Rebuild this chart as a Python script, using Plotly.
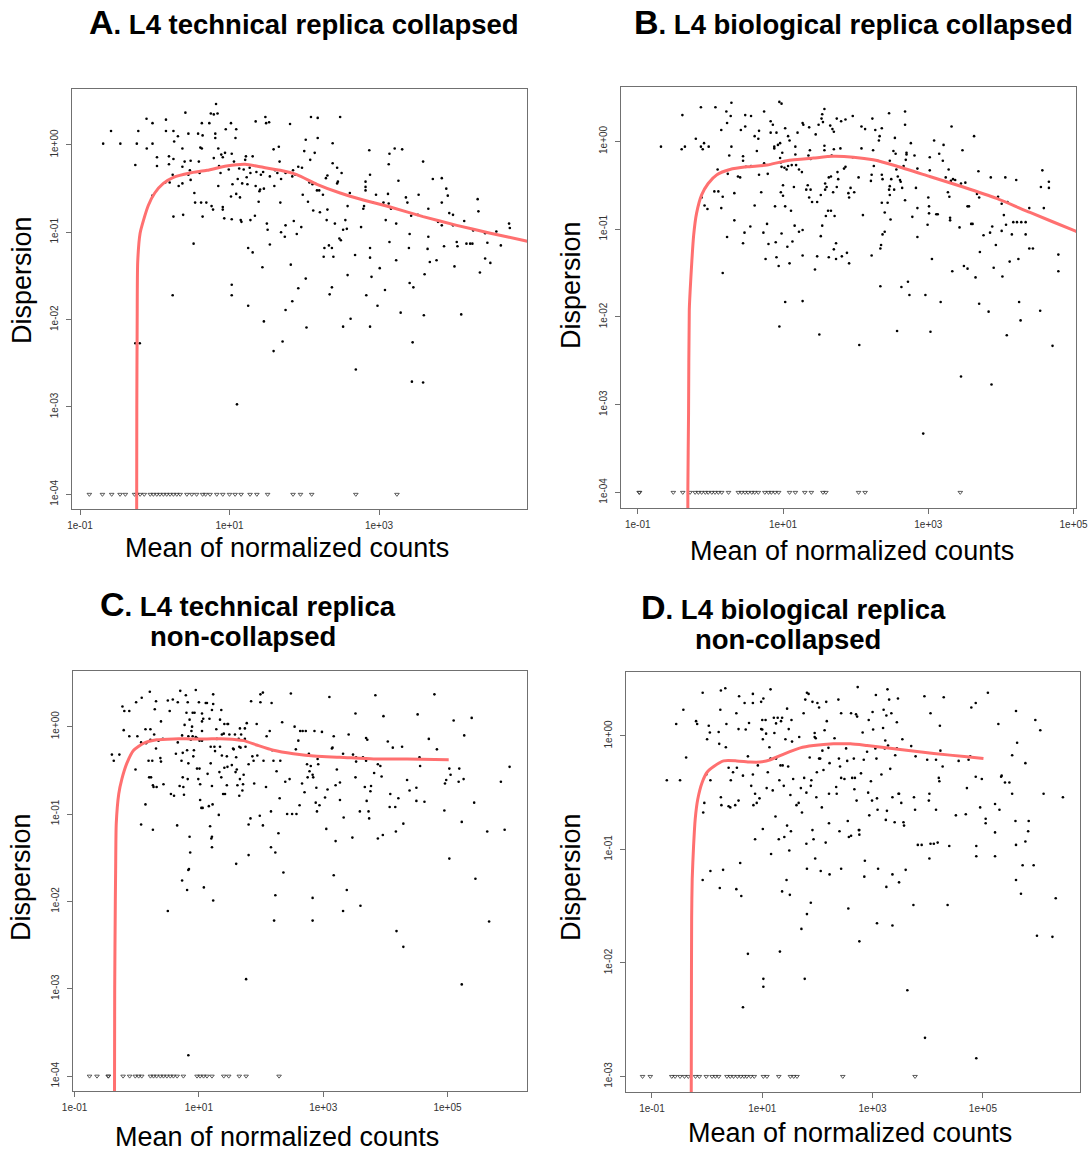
import numpy as np
import plotly.graph_objects as go

# ---------------------------------------------------------------------------
# Gene-wise dispersion estimates (log10 mean of normalized counts, log10 dispersion)
# ---------------------------------------------------------------------------
A_genes = [
    (-0.69, 0.015), (-0.585, 0.16), (-0.46, 0.015), (-0.24, 0.015), (-0.22, 0.16), (-0.26, -0.23),
    (-0.11, 0.30), (-0.107, -0.04), (-0.03, 0.25), (-0.03, 0.015), (0.03, -0.14), (0.03, -0.24),
    (-0.03, -0.58), (0.15, 0.29), (0.15, 0.16), (0.19, -0.13), (0.19, -0.22), (0.20, -0.43),
    (0.14, -0.43), (0.24, -0.34), (0.25, 0.16), (0.26, 0.04), (0.25, -0.16), (0.25, -0.82),
    (0.31, 0.10), (0.32, -0.47), (0.37, -0.04), (0.37, -0.25), (0.37, -0.44), (0.38, -0.80),
    (0.41, 0.37), (0.40, -0.19), (0.45, 0.13), (0.45, -0.34), (0.47, -0.29), (0.48, -0.18),
    (0.48, -0.40), (0.52, -1.13), (0.53, -0.55), (0.54, -0.66), (0.58, 0.13), (0.59, -0.19),
    (0.60, -0.32), (0.61, -0.03), (0.63, -0.04), (0.63, 0.25), (0.64, 0.11), (0.64, -0.82),
    (0.62, -0.66), (0.69, -0.66), (0.73, 0.25), (0.75, 0.36), (0.79, 0.35), (0.82, 0.47),
    (0.84, 0.36), (0.81, 0.13), (0.81, 0.08), (0.79, -0.15), (0.76, -0.70), (0.78, -0.74),
    (0.85, -0.04), (0.86, -0.24), (0.88, -0.32), (0.85, -0.47), (0.91, -0.71), (0.91, -0.74),
    (0.93, -0.84), (0.89, -0.11), (0.91, -0.14), (0.94, -0.09), (0.95, 0.18), (0.99, -0.28),
    (1.02, 0.25), (1.03, -0.10), (1.03, -0.85), (1.02, -0.59), (1.04, -0.45), (1.08, 0.08),
    (1.09, 0.18), (1.06, -0.19), (1.09, -0.56), (1.11, -0.39), (1.13, -0.27), (1.14, -0.60),
    (1.15, -0.86), (1.16, -0.88), (1.17, -0.44), (1.19, -0.28), (1.21, -0.17), (1.22, -0.13),
    (1.23, -0.37), (1.24, -0.45), (1.25, -1.18), (1.28, -0.86), (1.28, -0.32), (1.27, -0.26),
    (1.31, -0.13), (1.31, -1.23), (1.35, 0.27), (1.34, -0.81), (1.35, -0.47), (1.36, -0.31),
    (1.39, -0.65), (1.40, -0.53), (1.41, -0.51), (1.42, -0.34), (1.45, -0.31), (1.46, -0.50),
    (1.44, -1.40), (1.48, 0.32), (1.49, 0.25), (1.50, -0.90), (1.51, -0.97), (1.53, 0.26),
    (1.54, -1.14), (1.54, -0.36), (1.59, -0.05), (1.60, -0.47), (1.61, -0.29), (1.64, -0.32),
    (1.66, -0.02), (1.67, -0.19), (1.69, -0.39), (1.68, -0.66), (1.69, -1.00), (1.74, -1.05),
    (1.75, -0.92), (1.75, -0.32), (1.81, 0.24), (1.82, -1.37), (1.85, -0.29), (1.84, -0.36),
    (1.86, -0.87), (1.88, -0.34), (1.90, -1.02), (1.92, -0.25), (1.97, -0.26), (1.96, -0.94),
    (1.98, -0.57), (2.00, -0.07), (2.02, 0.06), (2.02, -1.53), (2.05, -0.65), (2.08, -0.17),
    (2.07, -0.43), (2.09, 0.32), (2.11, -0.45), (2.12, -0.75), (2.14, -0.09), (2.17, -0.52),
    (2.18, 0.31), (2.18, 0.08), (2.20, -0.52), (2.21, -0.77), (2.25, -0.57), (2.27, -1.18),
    (2.26, -1.28), (2.29, -0.38), (2.31, -0.35), (2.30, -0.86), (2.31, -0.74), (2.33, -1.15),
    (2.37, -1.18), (2.38, -0.21), (2.38, 0.02), (2.39, -1.28), (2.41, -0.90), (2.44, -0.26),
    (2.44, -0.44), (2.45, -0.42), (2.47, -1.07), (2.49, -1.09), (2.48, 0.32), (2.50, -0.32),
    (2.52, -0.97), (2.55, -0.86), (2.57, -0.96), (2.58, -1.49), (2.58, -0.70), (2.61, -0.55),
    (2.68, -1.26), (2.76, -0.94), (2.79, -0.73), (2.80, -0.70), (2.82, -0.42), (2.82, -0.52),
    (2.82, -0.48), (2.87, -0.06), (2.88, -0.34), (2.88, -1.18), (2.88, -1.29), (2.90, -1.51),
    (2.92, -0.66), (2.96, -0.57), (3.01, -1.41), (3.06, -0.66), (3.09, -0.86), (3.12, -0.56),
    (3.13, -0.67), (3.13, -0.22), (3.14, -0.10), (3.14, -1.11), (3.16, -0.73), (3.21, -0.04),
    (3.23, -0.90), (3.23, -1.32), (3.26, -0.41), (3.31, -0.05), (3.36, -0.60), (3.38, -0.66),
    (3.40, -1.18), (3.41, -1.02), (3.43, -0.81), (3.52, -0.80), (3.53, -0.57), (3.59, -0.19),
    (3.61, -1.48), (3.65, -1.19), (3.66, -1.05), (3.66, -0.73), (3.68, -1.34), (3.72, -0.39),
    (3.77, -1.32), (3.79, -0.88), (3.84, -0.38), (3.84, -0.66), (3.84, -0.92), (3.87, -1.16),
    (3.90, -0.50), (3.92, -0.58), (3.94, -0.78), (3.99, -0.80), (3.99, -0.92), (4.01, -1.39),
    (4.04, -1.11), (4.05, -1.16), (4.14, -0.87), (4.17, -1.13), (4.22, -1.13), (4.25, -1.13),
    (4.26, -0.98), (4.32, -0.62), (4.33, -0.76), (4.35, -1.46), (4.42, -1.01), (4.42, -1.30),
    (4.45, -1.12), (4.49, -1.35), (4.57, -0.99), (4.63, -1.15), (4.74, -0.90), (4.75, -0.95),
    (0.24, -1.72), (-0.26, -2.27), (-0.20, -2.27), (1.03, -1.60), (1.03, -1.72), (1.25, -1.84),
    (1.46, -2.02), (1.59, -2.36), (1.75, -1.89), (1.84, -1.79), (1.92, -1.64), (1.71, -2.25),
    (2.03, -2.09), (2.34, -1.71), (2.37, -1.63), (2.52, -2.08), (2.62, -1.99), (2.69, -2.57),
    (2.83, -1.72), (2.88, -2.08), (2.98, -1.84), (3.08, -1.66), (3.29, -1.92), (3.41, -1.58),
    (3.46, -1.63), (3.45, -2.26), (3.44, -2.71), (3.59, -2.72), (3.60, -1.95), (4.10, -1.94),
    (1.10, -2.97),
]
A_low_means = [
    -0.875, -0.70, -0.576, -0.464, -0.393, -0.27, -0.24, -0.196, -0.14, -0.06, -0.018, 0.027,
    0.07, 0.116, 0.16, 0.205, 0.25, 0.295, 0.34, 0.43, 0.495, 0.56, 0.64, 0.68, 0.74, 0.83,
    0.91, 1.0, 1.075, 1.155, 1.275, 1.366, 1.51, 1.85, 1.95, 2.10, 2.69, 3.24,
]
A_fit = [
    (-0.243, -5.0), (-0.240, -3.0), (-0.235, -2.0), (-0.228, -1.34), (-0.196, -1.01),
    (-0.15, -0.86), (-0.085, -0.69), (0.0, -0.55), (0.115, -0.44), (0.25, -0.37), (0.47, -0.32),
    (0.70, -0.29), (0.96, -0.24), (1.21, -0.22), (1.41, -0.25), (1.68, -0.29), (1.90, -0.34),
    (2.17, -0.45), (2.48, -0.55), (2.79, -0.63), (3.15, -0.71), (3.59, -0.82), (4.04, -0.92),
    (4.49, -1.01), (4.97, -1.10), (5.2, -1.15),
]

B_genes = [
    (-0.68, -0.06), (-0.385, 0.30), (-0.395, -0.09), (-0.35, -0.06), (-0.20, 0.03), (-0.13, 0.39),
    (-0.13, -0.06), (-0.105, -0.09), (-0.087, -0.02), (-0.023, -0.06), (-0.12, -0.64), (-0.08, -0.73),
    (-0.04, -0.77), (0.055, -0.57), (0.07, 0.39), (0.10, -0.32), (0.11, -0.57), (0.15, 0.13),
    (0.15, -0.76), (0.17, -1.50), (0.17, -0.63), (0.22, 0.34), (0.23, 0.21), (0.24, -0.37),
    (0.23, -1.09), (0.26, -0.16), (0.29, 0.44), (0.29, -0.06), (0.28, 0.29), (0.33, -0.59),
    (0.33, -0.90), (0.38, -0.40), (0.41, -0.41), (0.42, 0.13), (0.45, -0.17), (0.45, -0.22),
    (0.45, -1.16), (0.47, -1.04), (0.48, 0.30), (0.48, 0.17), (0.49, -0.29), (0.55, -0.97),
    (0.56, -0.28), (0.56, 0.29), (0.61, 0.06), (0.61, -0.73), (0.64, -0.11), (0.66, 0.03),
    (0.67, 0.12), (0.67, -0.38), (0.70, -0.58), (0.73, -1.04), (0.74, -0.25), (0.74, 0.34),
    (0.76, -1.34), (0.79, -0.37), (0.78, -0.94), (0.80, -1.17), (0.83, 0.10), (0.83, 0.23),
    (0.86, 0.19), (0.88, -0.08), (0.88, -0.06), (0.89, -0.74), (0.90, -1.15), (0.91, -1.32),
    (0.91, 0.10), (0.93, -0.04), (0.94, -1.42), (0.95, 0.45), (0.98, 0.43), (0.96, -0.02),
    (0.96, -0.19), (0.97, -0.24), (0.98, -0.29), (0.97, -0.58), (0.98, -1.05), (0.99, -0.13),
    (1.0, -0.62), (1.0, -0.50), (1.02, -0.30), (1.03, -0.74), (1.03, 0.15), (1.05, -0.32),
    (1.06, -1.20), (1.07, -0.28), (1.07, 0.06), (1.09, 0.01), (1.09, -1.39), (1.11, -0.79),
    (1.12, -0.27), (1.13, -1.14), (1.15, -0.52), (1.16, -0.96), (1.17, -0.06), (1.17, -0.15),
    (1.18, -0.27), (1.20, 0.10), (1.22, -0.32), (1.22, -1.03), (1.26, -0.35), (1.27, -1.01),
    (1.27, 0.21), (1.27, -1.30), (1.28, 0.19), (1.32, -0.55), (1.34, -0.50), (1.35, -0.16),
    (1.36, 0.16), (1.36, -0.64), (1.37, -0.10), (1.38, -0.55), (1.38, -0.20), (1.40, -0.69),
    (1.44, -1.46), (1.45, 0.08), (1.47, -0.69), (1.47, -1.31), (1.49, 0.19), (1.52, -1.08),
    (1.52, -0.61), (1.53, 0.26), (1.54, 0.31), (1.54, -0.96), (1.55, 0.22), (1.57, -0.05),
    (1.57, 0.37), (1.57, -0.10), (1.58, -0.55), (1.58, -0.48), (1.59, -0.85), (1.60, -0.52),
    (1.62, -0.79), (1.63, -0.41), (1.63, -1.32), (1.65, 0.18), (1.66, -0.79), (1.66, -0.40),
    (1.67, -0.16), (1.68, 0.14), (1.69, -0.58), (1.70, 0.11), (1.70, -0.09), (1.70, -1.23),
    (1.71, -0.85), (1.73, -1.34), (1.73, -1.16), (1.74, 0.26), (1.74, -0.52), (1.75, -0.35),
    (1.76, -0.43), (1.79, -0.08), (1.80, 0.23), (1.81, -1.31), (1.84, -0.31), (1.86, -0.29),
    (1.86, 0.25), (1.88, -1.27), (1.90, -0.59), (1.91, -1.39), (1.91, -0.64), (1.93, -0.53),
    (1.96, 0.29), (1.96, -0.18), (1.98, -0.58), (2.04, -0.41), (2.08, 0.17), (2.08, -0.08),
    (2.10, -0.84), (2.13, 0.14), (2.21, -0.45), (2.22, -0.38), (2.22, -1.30), (2.23, 0.26),
    (2.24, -0.10), (2.25, -0.28), (2.27, 0.13), (2.30, -0.22), (2.32, 0.01), (2.33, 0.06),
    (2.34, -1.22), (2.35, -1.18), (2.36, 0.15), (2.36, -0.38), (2.36, -0.70), (2.37, -0.43),
    (2.37, -1.06), (2.40, -1.03), (2.40, -0.81), (2.44, -0.70), (2.46, 0.32), (2.46, -0.55),
    (2.47, -0.61), (2.47, -0.51), (2.48, -0.89), (2.49, -0.43), (2.47, -0.22), (2.52, -0.11),
    (2.53, -0.55), (2.54, 0.04), (2.55, -0.14), (2.56, -0.32), (2.58, -0.40), (2.61, -0.44),
    (2.62, -0.46), (2.64, -0.53), (2.66, -0.28), (2.68, 0.34), (2.68, 0.19), (2.68, -0.67),
    (2.69, -0.21), (2.70, -0.15), (2.70, -0.13), (2.76, -0.02), (2.78, -0.86), (2.81, -0.16),
    (2.83, -0.53), (2.85, -0.76), (2.85, -1.09), (2.85, -0.31), (2.99, -0.95), (3.0, -0.64),
    (3.01, -0.74), (3.01, -0.82), (3.02, -0.18), (3.02, -0.33), (3.05, -1.34), (3.08, 0.01),
    (3.11, -0.83), (3.13, -0.83), (3.15, -0.14), (3.20, -0.22), (3.21, -0.04), (3.24, -0.41),
    (3.27, -0.58), (3.28, -0.32), (3.29, -0.63), (3.30, -0.87), (3.30, -0.90), (3.31, -0.45),
    (3.32, 0.17), (3.33, -1.48), (3.34, -0.43), (3.37, -0.44), (3.43, -0.98), (3.45, -0.48),
    (3.47, -0.10), (3.49, -1.42), (3.51, -0.47), (3.54, -1.45), (3.54, -0.74), (3.56, -0.74),
    (3.59, -0.94), (3.61, -0.94), (3.63, 0.06), (3.65, -1.55), (3.67, -0.60), (3.69, -0.34),
    (3.70, -0.64), (3.71, -1.26), (3.76, -1.07), (3.85, -1.04), (3.86, -0.41), (3.88, -0.97),
    (3.90, -1.44), (3.93, -1.18), (3.96, -0.63), (4.01, -1.02), (4.01, -0.71), (4.02, -1.54),
    (4.04, -0.84), (4.06, -0.41), (4.07, -0.95), (4.09, -0.69), (4.12, -1.37), (4.15, -1.06),
    (4.17, -0.92), (4.21, -0.44), (4.24, -1.34), (4.22, -0.92), (4.28, -0.92), (4.34, -0.92),
    (4.34, -1.06), (4.39, -0.76), (4.39, -1.22), (4.44, -1.22), (4.55, -0.52), (4.57, -0.33),
    (4.59, -0.76), (4.66, -0.46), (4.66, -0.53), (4.79, -1.29), (4.79, -1.48),
    (2.34, -1.65), (2.63, -1.66), (2.72, -1.60), (2.74, -1.75), (2.96, -1.75), (3.17, -1.83),
    (3.70, -1.85), (3.83, -1.94), (4.25, -1.83), (4.54, -1.93), (4.27, -2.04), (1.03, -1.83),
    (1.27, -1.82), (0.95, -2.11), (1.50, -2.20), (2.05, -2.32), (2.57, -2.16), (3.03, -2.17),
    (4.08, -2.21), (4.71, -2.33), (3.45, -2.68), (3.87, -2.77), (2.93, -3.33),
]
B_low_means = [
    -0.98, -0.975, -0.51, -0.38, -0.28, -0.21, -0.165, -0.12, -0.07, -0.03, 0.02, 0.064, 0.11,
    0.156, 0.25, 0.385, 0.43, 0.477, 0.52, 0.57, 0.61, 0.66, 0.75, 0.80, 0.84, 0.89, 0.94,
    1.09, 1.17, 1.30, 1.39, 1.55, 1.59, 2.04, 2.13, 3.44,
]
B_fit = [
    (-0.31, -5.0), (-0.31, -4.0), (-0.30, -3.09), (-0.29, -1.92), (-0.27, -1.58), (-0.23, -1.07),
    (-0.19, -0.82), (-0.12, -0.61), (-0.03, -0.48), (0.09, -0.38), (0.27, -0.32), (0.50, -0.29),
    (0.78, -0.27), (1.05, -0.22), (1.42, -0.19), (1.69, -0.17), (1.97, -0.18), (2.24, -0.21),
    (2.56, -0.28), (3.02, -0.40), (3.48, -0.52), (3.94, -0.65), (4.40, -0.81), (5.02, -1.02),
    (5.2, -1.08),
]

C_genes = [
    (-0.40, -0.32), (-0.37, -0.39), (-0.28, -0.32), (-0.23, 0.23), (-0.20, 0.18), (-0.21, -0.04),
    (-0.12, 0.18), (-0.12, -0.11), (-0.02, -0.49), (-0.01, 0.28), (0.01, -0.11), (0.07, -1.12),
    (0.08, 0.33), (0.07, -0.18), (0.14, -0.89), (0.14, -0.03), (0.15, -0.19), (0.19, -0.39),
    (0.21, 0.40), (0.22, -0.03), (0.22, -0.15), (0.20, -0.58), (0.23, -0.58), (0.25, -0.39),
    (0.26, -1.18), (0.26, -0.67), (0.27, -0.69), (0.28, -0.09), (0.29, 0.20), (0.31, 0.29),
    (0.31, -0.25), (0.32, -0.69), (0.35, -0.16), (0.38, -0.36), (0.39, 0.06), (0.39, -0.40),
    (0.42, -0.14), (0.43, -0.66), (0.50, 0.30), (0.53, 0.18), (0.55, -0.77), (0.58, 0.31),
    (0.60, -0.79), (0.63, -0.31), (0.65, -1.13), (0.66, 0.28), (0.66, -0.18), (0.69, -0.68),
    (0.70, 0.41), (0.72, -0.39), (0.73, -0.10), (0.74, -0.58), (0.74, -0.30), (0.75, -0.69),
    (0.76, -0.78), (0.77, 0.02), (0.79, 0.36), (0.80, 0.16), (0.81, -0.27), (0.82, 0.28),
    (0.82, -0.60), (0.83, -0.42), (0.83, -0.11), (0.84, -1.63), (0.85, -1.26), (0.85, 0.08),
    (0.86, -1.44), (0.87, -0.15), (0.88, -0.05), (0.89, 0.0), (0.90, -0.11), (0.90, 0.16),
    (0.91, -0.34), (0.92, -0.27), (0.93, 0.16), (0.95, -0.12), (0.95, 0.42), (0.97, -0.48),
    (0.97, -0.13), (0.99, -0.60), (1.0, 0.28), (1.01, -0.48), (1.01, -0.16), (1.02, -0.84),
    (1.02, -0.66), (1.04, -0.93), (1.05, -0.16), (1.05, 0.15), (1.05, 0.06), (1.05, -0.05),
    (1.05, -0.15), (1.06, -0.93), (1.07, 0.09), (1.11, 0.27), (1.13, 0.27), (1.14, -0.54),
    (1.16, -0.91), (1.17, 0.09), (1.18, -1.14), (1.19, -0.23), (1.19, -0.42), (1.20, -1.28),
    (1.21, -1.26), (1.21, -1.38), (1.21, 0.19), (1.21, -0.68), (1.22, -0.89), (1.23, 0.37),
    (1.23, 0.26), (1.25, -0.23), (1.26, -0.28), (1.28, -0.03), (1.29, -0.14), (1.32, -1.01),
    (1.33, -0.52), (1.34, -0.23), (1.34, 0.08), (1.36, 0.19), (1.36, -0.58), (1.37, -0.33),
    (1.37, -0.09), (1.39, -0.77), (1.40, -0.08), (1.41, 0.03), (1.41, -0.47), (1.42, -0.77),
    (1.45, -0.34), (1.45, -0.67), (1.46, -0.46), (1.46, 0.03), (1.47, 0.03), (1.49, -0.09),
    (1.53, -0.44), (1.55, -0.25), (1.56, -0.26), (1.58, -0.09), (1.59, -0.52), (1.60, -0.35),
    (1.60, -1.57), (1.61, -0.49), (1.62, -0.67), (1.64, -0.14), (1.65, -0.79), (1.65, -0.23),
    (1.66, -0.60), (1.66, -0.02), (1.67, -0.24), (1.68, -0.09), (1.70, -0.73), (1.71, -0.66),
    (1.72, -0.55), (1.74, -0.02), (1.74, -0.14), (1.75, -0.23), (1.77, 0.04), (1.80, -0.43),
    (1.80, -1.12), (1.80, -1.47), (1.83, -1.05), (1.84, 0.29), (1.86, -0.34), (1.88, -0.39),
    (1.89, -0.65), (1.93, 0.03), (1.94, -0.33), (1.98, -1.02), (1.99, 0.37), (1.99, 0.28),
    (2.03, 0.39), (2.03, -1.13), (2.04, -0.39), (2.08, -0.69), (2.09, -0.11), (2.14, -0.05),
    (2.16, -0.97), (2.16, -1.38), (2.17, 0.27), (2.18, -0.27), (2.20, -0.39), (2.23, -1.44),
    (2.25, -0.51), (2.28, -1.22), (2.30, -0.82), (2.31, -0.39), (2.34, 0.05), (2.39, -0.63),
    (2.42, -1.00), (2.46, -0.60), (2.48, 0.38), (2.50, -1.00), (2.54, 0.0), (2.56, -0.26),
    (2.57, -1.00), (2.60, -0.16), (2.62, -0.90), (2.63, -0.05), (2.66, -0.65), (2.67, -0.05),
    (2.70, -0.75), (2.72, -0.05), (2.74, -0.43), (2.75, -0.58), (2.77, -0.31), (2.78, -0.51),
    (2.80, -0.45), (2.83, -0.55), (2.84, -0.58), (2.86, -0.05), (2.88, -0.87), (2.89, -0.70),
    (2.90, -0.97), (2.91, -0.37), (2.92, -0.43), (2.94, -0.90), (2.98, -0.06), (3.03, -0.81),
    (3.05, -1.17), (3.07, -0.72), (3.10, 0.34), (3.14, -0.25), (3.15, -0.24), (3.17, -0.11),
    (3.20, -0.67), (3.20, -1.31), (3.22, -0.49), (3.27, -0.64), (3.27, -0.84), (3.32, -0.31),
    (3.33, -1.04), (3.41, -0.09), (3.47, -1.27), (3.48, -0.32), (3.52, 0.15), (3.52, -0.58),
    (3.53, -0.35), (3.53, -0.40), (3.59, -0.97), (3.64, -0.35), (3.67, -0.69), (3.69, -0.13),
    (3.69, -0.39), (3.70, -0.85), (3.71, -0.15), (3.73, -0.97), (3.74, -1.05), (3.76, -0.74),
    (3.77, -0.68), (3.82, -0.53), (3.84, 0.36), (3.88, -1.28), (3.88, -0.43), (3.92, -0.45),
    (3.94, -0.57), (3.96, -1.24), (3.97, 0.12), (4.04, -0.17), (4.07, -0.92), (4.08, -0.77),
    (4.12, -0.24), (4.16, -0.92), (4.17, -1.20), (4.21, -0.82), (4.27, -0.23), (4.29, -1.11),
    (4.35, -0.61), (4.39, -0.73), (4.50, -0.70), (4.50, -0.85), (4.52, 0.14), (4.55, -0.35),
    (4.56, -0.45), (4.63, -0.86), (4.70, -0.14), (4.79, 0.37), (4.83, -0.26), (4.95, -0.96),
    (4.96, -0.65), (4.98, -0.61), (5.03, -1.51), (5.03, -0.48), (5.05, -0.55), (5.10, 0.07),
    (5.18, -0.63), (5.19, -0.48), (5.23, -1.09), (5.26, -0.60), (5.27, -0.10), (5.39, 0.10),
    (5.43, -0.87), (5.64, -1.20), (5.86, -0.63), (5.92, -1.18), (6.0, -0.46),
    (0.73, -1.76), (0.81, -1.87), (0.83, -1.64), (1.08, -1.84), (1.23, -1.99), (0.50, -2.11),
    (1.76, -2.89), (0.83, -3.76), (2.23, -1.93), (2.21, -2.22), (2.36, -1.67), (2.83, -1.96),
    (2.83, -2.22), (3.17, -1.70), (3.32, -2.11), (3.38, -1.87), (3.60, -2.05), (4.18, -2.34),
    (4.29, -2.52), (5.23, -2.95), (5.45, -1.74), (5.67, -2.23),
]
C_low_means = [
    -0.76, -0.64, -0.46, -0.455, -0.22, -0.115, -0.024, 0.03, 0.08, 0.22, 0.27, 0.32, 0.38,
    0.43, 0.485, 0.54, 0.59, 0.65, 0.75, 0.97, 1.02, 1.075, 1.13, 1.21, 1.40, 1.48, 1.65,
    1.76, 2.29,
]
C_fit = [
    (-0.36, -5.0), (-0.355, -3.0), (-0.345, -2.0), (-0.34, -1.65), (-0.33, -1.11), (-0.29, -0.77),
    (-0.24, -0.60), (-0.16, -0.42), (-0.05, -0.27), (0.11, -0.19), (0.32, -0.15), (0.59, -0.14),
    (0.86, -0.14), (1.13, -0.14), (1.45, -0.14), (1.72, -0.16), (1.93, -0.21), (2.20, -0.27),
    (2.52, -0.31), (2.90, -0.34), (3.27, -0.35), (3.81, -0.37), (4.35, -0.37), (5.02, -0.38),
]

D_genes = [
    (-0.73, -0.39), (-0.56, 0.105), (-0.49, -0.39), (-0.43, 0.23), (-0.38, -0.19), (-0.20, 0.13),
    (-0.18, 0.105), (-0.08, 0.38), (-0.07, -0.675), (-0.05, -0.59), (-0.015, -0.34), (0.0, -0.03),
    (0.03, 0.09), (0.05, 0.03), (0.06, -0.39), (0.06, -1.19), (0.21, 0.035), (0.22, -0.07),
    (0.24, 0.23), (0.25, 0.40), (0.25, -0.54), (0.26, -0.61), (0.29, -1.18), (0.33, 0.42),
    (0.34, -0.10), (0.35, 0.105), (0.39, -0.28), (0.39, -0.62), (0.42, -0.63), (0.43, -0.39),
    (0.47, -0.32), (0.51, -0.61), (0.53, 0.20), (0.54, -0.28), (0.57, 0.06), (0.57, -0.57),
    (0.58, 0.35), (0.60, -1.12), (0.65, -0.35), (0.68, 0.29), (0.70, 0.056), (0.74, -0.18),
    (0.76, 0.114), (0.80, -0.44), (0.83, 0.37), (0.83, 0.29), (0.83, -0.34), (0.84, -0.61),
    (0.87, -0.51), (0.87, -0.91), (0.90, -0.59), (0.92, -0.26), (0.95, -0.55), (0.98, 0.30),
    (0.98, 0.06), (1.0, 0.14), (1.0, 0.056), (1.01, -0.03), (1.01, -0.82), (1.02, 0.33),
    (1.06, 0.14), (1.07, 0.02), (1.08, -0.46), (1.10, -0.32), (1.13, -0.10), (1.15, 0.41),
    (1.16, -1.04), (1.15, -0.20), (1.19, -0.48), (1.21, 0.16), (1.22, 0.026), (1.24, -0.71),
    (1.25, 0.11), (1.25, -0.20), (1.28, 0.16), (1.30, -0.91), (1.31, -0.39), (1.33, -0.26),
    (1.34, 0.13), (1.36, 0.16), (1.37, -0.26), (1.39, -0.44), (1.40, -0.89), (1.42, -0.03),
    (1.45, 0.24), (1.45, -0.79), (1.47, -0.27), (1.48, 0.06), (1.49, -1.01), (1.51, -0.52),
    (1.52, -0.84), (1.53, 0.14), (1.54, -0.05), (1.56, -0.38), (1.62, -0.61), (1.66, -0.59),
    (1.67, -0.01), (1.70, -0.46), (1.72, -0.675), (1.75, 0.20), (1.76, -0.37), (1.78, 0.32),
    (1.80, -0.95), (1.80, -0.50), (1.81, -1.17), (1.81, 0.38), (1.84, 0.37), (1.86, -0.19),
    (1.88, -0.44), (1.89, -0.39), (1.91, 0.30), (1.91, -0.83), (1.93, -0.91), (1.95, -0.01),
    (1.95, 0.026), (1.96, -1.08), (1.97, -0.02), (1.98, -0.54), (1.99, -0.32), (2.00, 0.29),
    (2.03, -0.20), (2.03, 0.25), (2.05, -0.20), (2.06, -1.19), (2.08, -0.63), (2.09, -0.13),
    (2.11, -0.30), (2.13, 0.05), (2.15, -0.94), (2.16, 0.30), (2.17, 0.13), (2.20, -0.105),
    (2.21, -0.51), (2.21, -0.77), (2.22, -0.24), (2.22, -1.22), (2.31, -0.02), (2.34, -0.45),
    (2.35, -0.51), (2.38, 0.32), (2.39, -0.20), (2.40, -0.84), (2.41, -0.27), (2.43, 0.20),
    (2.43, -0.37), (2.43, -1.17), (2.49, -0.38), (2.52, -0.11), (2.54, -0.22), (2.55, -0.75),
    (2.57, -0.89), (2.61, 0.20), (2.61, -0.88), (2.63, -0.37), (2.66, -0.20), (2.67, -0.47),
    (2.68, -0.37), (2.70, 0.19), (2.71, -0.57), (2.72, 0.17), (2.73, 0.43), (2.75, -0.83),
    (2.76, -0.87), (2.76, -0.83), (2.79, -0.33), (2.82, 0.03), (2.84, -0.21), (2.85, -1.24),
    (2.86, -1.10), (2.90, -0.14), (2.92, -0.50), (2.93, 0.14), (2.94, -0.70), (2.97, -0.40),
    (2.99, -0.57), (3.0, 0.21), (3.01, 0.056), (3.05, -0.11), (3.06, 0.36), (3.07, -0.20),
    (3.08, -0.55), (3.09, -0.65), (3.10, -1.17), (3.16, -0.34), (3.19, 0.07), (3.20, 0.23),
    (3.22, -0.11), (3.23, -0.04), (3.24, -0.74), (3.25, 0.18), (3.26, -0.66), (3.27, 0.41),
    (3.28, -0.085), (3.30, 0.32), (3.32, -0.29), (3.34, 0.20), (3.36, -0.54), (3.36, -1.22),
    (3.40, -0.76), (3.41, -0.17), (3.44, -0.11), (3.44, 0.12), (3.46, 0.33), (3.47, -0.51),
    (3.48, -0.51), (3.52, -0.59), (3.54, -0.03), (3.56, -0.76), (3.57, -0.79), (3.60, -1.18),
    (3.70, -0.09), (3.75, -0.54), (3.77, -0.65), (3.78, -0.18), (3.82, -0.96), (3.89, -0.96),
    (3.94, 0.35), (3.99, -0.21), (4.02, -0.57), (4.03, -0.51), (4.03, -1.08), (4.05, 0.20),
    (4.05, -0.95), (4.11, -0.95), (4.15, -0.65), (4.15, -0.21), (4.18, -0.94), (4.20, -0.37),
    (4.21, -0.40), (4.22, 0.09), (4.23, -0.13), (4.27, -0.27), (4.29, 0.34), (4.39, -0.97),
    (4.51, -0.70), (4.56, -0.22), (4.69, -0.69), (4.71, -0.46), (4.74, -0.21), (4.77, -0.18),
    (4.79, 0.25), (4.87, 0.29), (4.87, -0.36), (4.88, -0.97), (4.88, -1.06), (4.95, -0.63),
    (4.98, -0.38), (5.05, -0.73), (5.05, -0.77), (5.09, 0.38), (5.22, -0.60), (5.22, -0.85),
    (5.22, -1.06), (5.28, 0.105), (5.30, -0.65), (5.33, -0.36), (5.34, -0.35), (5.40, -0.41),
    (5.48, -0.41), (5.53, -0.17), (5.53, -0.51), (5.59, -0.75), (5.60, -0.96), (5.60, 0.22),
    (5.62, -0.06), (5.77, -0.24), (5.77, -0.93), (5.82, -0.84), (5.83, -0.75), (5.72, -1.14),
    (5.92, -1.14), (5.95, 0.14), (6.04, 0.05), (6.10, -0.51), (6.45, -0.54),
    (-0.08, -1.27), (0.23, -1.34), (0.53, -1.35), (0.62, -1.41), (0.74, -1.92), (0.65, -2.39),
    (1.02, -2.14), (1.02, -2.21), (1.32, -1.90), (1.36, -1.37), (1.44, -1.27), (1.50, -1.40),
    (1.71, -1.70), (1.81, -1.57), (1.88, -1.47), (1.77, -2.14), (2.56, -1.52), (2.76, -1.81),
    (3.08, -1.65), (3.25, -1.33), (3.36, -1.67), (3.48, -1.29), (3.63, -2.24), (3.74, -1.49),
    (3.95, -2.66), (4.36, -1.49), (4.88, -2.84), (5.60, -1.27), (5.69, -1.39), (5.98, -1.76),
    (6.26, -1.77), (6.32, -1.43),
]
D_low_means = [
    -1.17, -1.03, -0.64, -0.58, -0.49, -0.41, -0.34, -0.21, -0.14, -0.015, 0.09, 0.15, 0.21,
    0.36, 0.42, 0.48, 0.55, 0.61, 0.67, 0.72, 0.79, 0.855, 1.02, 1.085, 1.30, 1.51, 1.57,
    1.63, 2.46, 3.77,
]
D_fit = [
    (-0.29, -4.0), (-0.285, -2.5), (-0.28, -1.6), (-0.27, -1.26), (-0.245, -0.97), (-0.215, -0.73),
    (-0.17, -0.56), (-0.09, -0.41), (0.0, -0.32), (0.12, -0.27), (0.30, -0.22), (0.54, -0.22),
    (0.78, -0.23), (0.96, -0.23), (1.15, -0.21), (1.39, -0.16), (1.69, -0.105), (1.93, -0.085),
    (2.29, -0.07), (2.60, -0.07), (2.90, -0.085), (3.50, -0.12), (4.11, -0.155), (4.71, -0.184),
    (5.01, -0.20),
]

# Panel settings: title lines, floor of the dispersion axis, axis ranges (log10)
panel_titles = [
    ("A", ". L4 technical replica collapsed", None),
    ("B", ". L4 biological replica collapsed", None),
    ("C", ". L4 technical replica", "non-collapsed"),
    ("D", ". L4 biological replica", "non-collapsed"),
]
disp_floor_exp = [-4, -4, -4, -3]
x_ranges = [(-1.107, 4.98), (-1.23, 5.033), (-1.026, 6.28), (-1.47, 6.76)]
y_ranges = [(-4.168, 0.641), (-4.178, 0.62), (-4.17, 0.637), (-3.137, 0.563)]
x_tick_exps = [-1, 1, 3, 5]
y_tick_exps = [-4, -3, -2, -1, 0]

W, H = 1089, 1151
# plot frames in pixels: left, right, top, bottom
frames = [
    (72, 527, 89, 509),
    (621, 1076, 87, 508),
    (73, 527, 671, 1091),
    (626, 1080, 672, 1092),
]
# axis title positions in pixels: x-title centre (x, y), y-title centre (x, y)
xtitle_pos = [(287, 548), (852, 551), (277, 1137), (850, 1133)]
ytitle_pos = [(22, 280), (571, 285), (21, 877), (571, 877)]
# panel title positions: x centre, first line centre, second line centre
title_pos = [(304, 22, None), (853, 22, None), (248, 604, 636), (793, 607, 639)]

genes_all = [A_genes, B_genes, C_genes, D_genes]
low_all = [A_low_means, B_low_means, C_low_means, D_low_means]
fit_all = [A_fit, B_fit, C_fit, D_fit]

FONT = "Liberation Sans, Arial, Helvetica, sans-serif"
FIT_COLOR = "#ff7070"


def exp_label(e):
    return "1e%s%02d" % ("+" if e >= 0 else "-", abs(e))


fig = go.Figure()
layout = dict(
    width=W, height=H, margin=dict(l=0, r=0, t=0, b=0, autoexpand=False),
    paper_bgcolor="white", plot_bgcolor="white", showlegend=False,
    font=dict(family=FONT, color="black"),
)
annotations = []

for i in range(4):
    sfx = "" if i == 0 else str(i + 1)
    xa, ya = "x" + sfx, "y" + sfx
    left, right, top, bottom = frames[i]
    gx = np.array([g[0] for g in genes_all[i]])
    gy = np.array([g[1] for g in genes_all[i]])
    fx = np.array([f[0] for f in fit_all[i]])
    fy = np.array([f[1] for f in fit_all[i]])
    lx = np.array(low_all[i])
    floor = 10.0 ** disp_floor_exp[i]

    fig.add_trace(go.Scatter(
        x=10 ** gx, y=10 ** gy, mode="markers", xaxis=xa, yaxis=ya,
        marker=dict(size=2.6, color="black"), hoverinfo="skip"))
    fig.add_trace(go.Scatter(
        x=10 ** lx, y=np.full(lx.shape, floor), mode="markers", xaxis=xa, yaxis=ya,
        marker=dict(symbol="triangle-down-open", size=4, color="#333",
                    line=dict(width=0.8, color="#333")), hoverinfo="skip"))
    fig.add_trace(go.Scatter(
        x=10 ** fx, y=10 ** fy, mode="lines", xaxis=xa, yaxis=ya,
        line=dict(color=FIT_COLOR, width=3, shape="spline", smoothing=0.6),
        hoverinfo="skip"))

    xt = [e for e in x_tick_exps if x_ranges[i][0] <= e <= x_ranges[i][1]]
    yt = [e for e in y_tick_exps if y_ranges[i][0] <= e <= y_ranges[i][1]]
    axis_common = dict(
        type="log", showgrid=False, zeroline=False, showline=True, mirror=True,
        linecolor="#707070", linewidth=1, ticks="outside", ticklen=5, tickwidth=1,
        tickcolor="#707070", tickfont=dict(size=10, color="#333", family=FONT),
        automargin=False,
    )
    layout["xaxis" + sfx] = dict(
        axis_common, domain=[left / W, right / W], range=list(x_ranges[i]),
        anchor=ya, tickvals=[10.0 ** e for e in xt], ticktext=[exp_label(e) for e in xt],
        tickangle=0, ticklabelstandoff=2)
    layout["yaxis" + sfx] = dict(
        axis_common, domain=[1 - bottom / H, 1 - top / H], range=list(y_ranges[i]),
        anchor=xa, tickvals=[10.0 ** e for e in yt], ticktext=[exp_label(e) for e in yt],
        tickangle=-90, ticklabelstandoff=4)

    # axis titles
    tx, ty = xtitle_pos[i]
    annotations.append(dict(
        text="Mean of normalized counts", xref="paper", yref="paper",
        x=tx / W, y=1 - ty / H, xanchor="center", yanchor="middle", showarrow=False,
        font=dict(size=27, family=FONT, color="black")))
    vx, vy = ytitle_pos[i]
    annotations.append(dict(
        text="Dispersion", xref="paper", yref="paper",
        x=vx / W, y=1 - vy / H, xanchor="center", yanchor="middle", textangle=-90,
        showarrow=False, font=dict(size=27, family=FONT, color="black")))

# Panel titles
for (letter, rest, line2), (cx, y1, y2) in zip(panel_titles, title_pos):
    annotations.append(dict(
        text="<b><span style='font-size:34px'>%s</span>%s</b>" % (letter, rest),
        xref="paper", yref="paper", x=cx / W, y=1 - y1 / H,
        xanchor="center", yanchor="middle", showarrow=False,
        font=dict(size=27.5, family=FONT, color="black")))
    if line2:
        annotations.append(dict(
            text="<b>%s</b>" % line2, xref="paper", yref="paper",
            x=(cx - 5) / W, y=1 - y2 / H, xanchor="center", yanchor="middle",
            showarrow=False, font=dict(size=27.5, family=FONT, color="black")))

layout["annotations"] = annotations
fig.update_layout(**layout)
fig.write_html("out.html")
